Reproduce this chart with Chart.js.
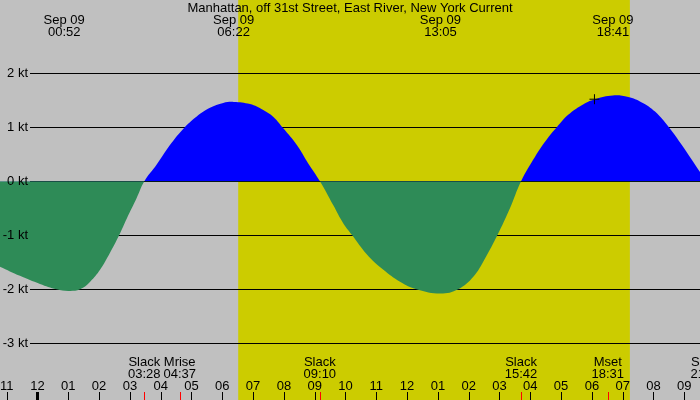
<!DOCTYPE html>
<html>
<head>
<meta charset="utf-8">
<script src="https://cdn.jsdelivr.net/npm/chart.js@4.4.1/dist/chart.umd.min.js"></script>
<style>
  html, body { margin: 0; padding: 0; background: #c0c0c0; }
  #wrap { width: 700px; height: 400px; }
</style>
</head>
<body>
<div id="wrap"><canvas id="canvas"></canvas></div>
<script>
// hours after midnight, Sep 09 (negative = Sep 08)
var hours = [-1.22, -0.57, 0.08, 0.62, 1.00, 1.38, 1.71, 2.03, 2.35, 2.65, 2.90, 3.22, 3.47,
  3.87, 4.30, 4.73, 5.17, 5.60, 6.03, 6.37, 6.90, 7.33, 7.66, 7.98, 8.42, 8.79, 9.17,
  9.60, 9.93, 10.22, 10.69, 11.23, 11.77, 12.31, 13.08, 13.66, 14.15, 14.53, 14.93, 15.34, 15.70,
  16.15, 16.58, 16.86, 17.23, 17.67, 18.10, 18.68, 19.18, 19.62, 20.05, 20.50, 20.92, 21.51];
// current speed in knots (flood +, ebb -)
var knots = [-1.58, -1.75, -1.90, -2.00, -2.03, -2.00, -1.86, -1.64, -1.33, -1.00, -0.69, -0.31, 0,
  0.31, 0.67, 0.97, 1.20, 1.36, 1.45, 1.47, 1.43, 1.32, 1.19, 0.98, 0.67, 0.33, 0,
  -0.44, -0.78, -1.00, -1.35, -1.64, -1.86, -2.00, -2.08, -2.00, -1.77, -1.43, -1.00, -0.50, 0,
  0.45, 0.81, 1.00, 1.23, 1.41, 1.52, 1.59, 1.56, 1.46, 1.29, 1.00, 0.67, 0.17];

var maxTimes = ["00:52", "06:22", "13:05", "18:41"];
var eventNames = ["Slack", "Mrise", "Slack", "Slack", "Mset", "Slack"];
var eventTimes = ["03:28", "04:37", "09:10", "15:42", "18:31", "21:44"];
var daylight = ["06:31", "19:14"];
var nowMark = { time: "18:05", knots: 1.52 };

var tickHours = [-1, 0, 1, 2, 3, 4, 5, 6, 7, 8, 9, 10, 11, 12, 13, 14, 15, 16, 17, 18, 19, 20, 21];
var tickLabels = ["11", "12", "01", "02", "03", "04", "05", "06", "07", "08", "09", "10",
  "11", "12", "01", "02", "03", "04", "05", "06", "07", "08", "09"];
var ktLevels = [2, 1, 0, -1, -2, -3];
var ktLabels = ["2 kt", "1 kt", "0 kt", "-1 kt", "-2 kt", "-3 kt"];

var title = "Manhattan, off 31st Street, East River, New York Current";
var dateLabel = "Sep 09";

function toHours(s) {
  var p = s.split(":");
  return parseInt(p[0], 10) + parseInt(p[1], 10) / 60;
}

var FONT = "13px 'Liberation Sans', Arial, sans-serif";

var tidePlugin = {
  id: "tide",
  beforeDatasetsDraw: function (chart) {
    var ctx = chart.ctx, x = chart.scales.x, y = chart.scales.y;
    ctx.save();
    ctx.fillStyle = "#c0c0c0";
    ctx.fillRect(0, 0, chart.width, chart.height);
    var d0 = x.getPixelForValue(toHours(daylight[0]));
    var d1 = x.getPixelForValue(toHours(daylight[1]));
    ctx.fillStyle = "#cccc00";
    ctx.fillRect(d0, 0, d1 - d0, chart.height);
    ctx.strokeStyle = "#000";
    ctx.lineWidth = 1;
    ktLevels.forEach(function (v) {
      var py = Math.round(y.getPixelForValue(v)) + 0.5;
      ctx.beginPath();
      ctx.moveTo(30, py);
      ctx.lineTo(chart.width, py);
      ctx.stroke();
    });
    ctx.restore();
  },
  afterDatasetsDraw: function (chart) {
    var ctx = chart.ctx, x = chart.scales.x, y = chart.scales.y;
    ctx.save();
    ctx.font = FONT;
    ctx.fillStyle = "#000";
    ctx.textBaseline = "middle";

    ctx.textAlign = "right";
    ktLevels.forEach(function (v, i) {
      ctx.fillText(ktLabels[i], 28, y.getPixelForValue(v));
    });

    ctx.textAlign = "center";
    ctx.fillText(title, 350, 8);
    maxTimes.forEach(function (t) {
      var px = x.getPixelForValue(toHours(t));
      ctx.fillText(dateLabel, px, 20);
      ctx.fillText(t, px, 32);
    });

    eventTimes.forEach(function (t, i) {
      var px = x.getPixelForValue(toHours(t));
      ctx.fillText(eventNames[i], px, 362);
      ctx.fillText(t, px, 374);
      ctx.fillStyle = "#ff0000";
      ctx.fillRect(Math.round(px), 392, 1, 8);
      ctx.fillStyle = "#000";
    });

    tickHours.forEach(function (h, i) {
      var px = x.getPixelForValue(h);
      ctx.fillText(tickLabels[i], px, 386);
      if (h === 0) {
        ctx.fillRect(Math.round(px) - 1, 392, 3, 8);
      } else {
        ctx.fillRect(Math.round(px), 392, 1, 8);
      }
    });
    ctx.restore();
  }
};

var ctx = document.getElementById("canvas").getContext("2d");
var myChart = new Chart(ctx, {
  type: "line",
  data: {
    datasets: [
      {
        label: "now",
        type: "scatter",
        data: [{ x: toHours(nowMark.time), y: nowMark.knots }],
        pointStyle: "cross",
        pointRadius: 5,
        borderColor: "#000",
        borderWidth: 1,
        backgroundColor: "#000",
        order: 0
      },
      {
        label: "Current",
        data: hours.map(function (h, i) { return { x: h, y: knots[i] }; }),
        borderWidth: 0,
        borderColor: "rgba(0,0,0,0)",
        pointRadius: 0,
        tension: 0.4,
        fill: { target: "origin", above: "#0000ff", below: "#2e8b57" },
        order: 1
      }
    ]
  },
  options: {
    responsive: true,
    maintainAspectRatio: false,
    animation: false,
    layout: { padding: 0, autoPadding: false },
    plugins: { legend: { display: false }, tooltip: { enabled: false } },
    scales: {
      x: { type: "linear", min: -1.2175, max: 21.51, display: false },
      y: { min: -4.05, max: 3.357, display: false }
    }
  },
  plugins: [tidePlugin]
});
</script>
</body>
</html>
